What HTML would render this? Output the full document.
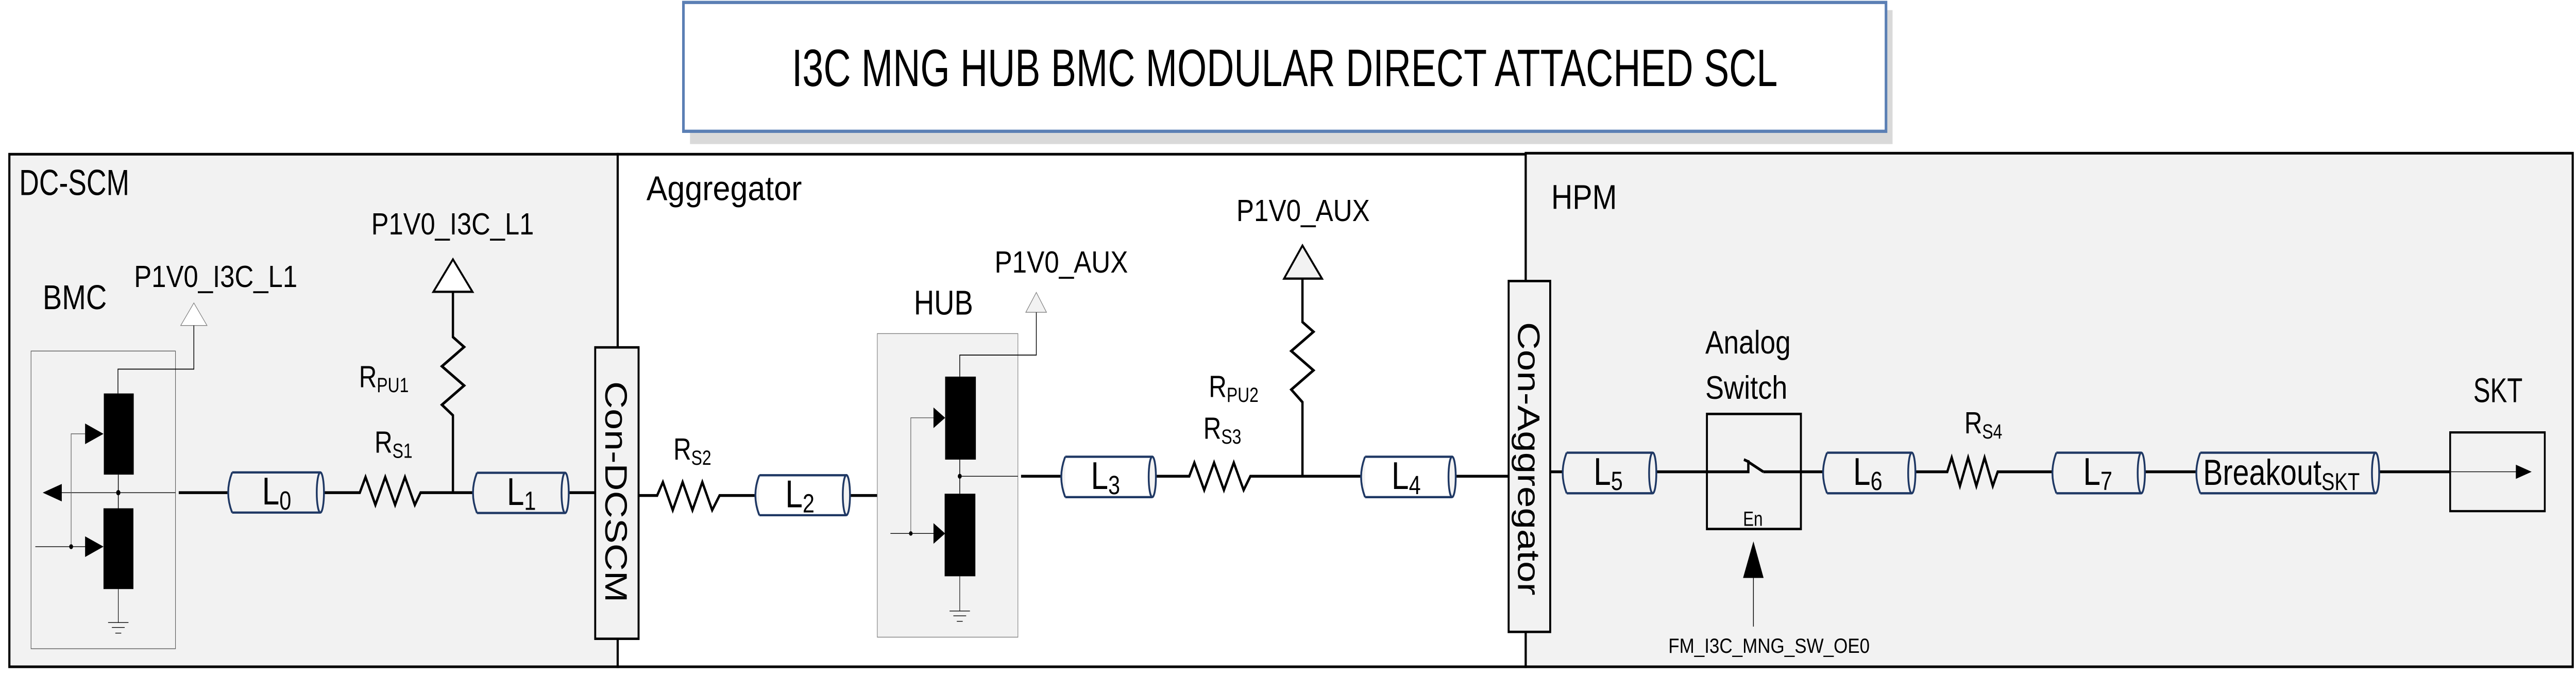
<!DOCTYPE html>
<html><head><meta charset="utf-8"><style>
html,body{margin:0;padding:0;background:#fff;width:100%;height:100%;overflow:hidden;}
svg{display:block;width:100vw;height:100vh;}
text{font-family:"Liberation Sans Narrow","Liberation Sans",sans-serif;fill:#000;}
.w{font-family:"Liberation Sans",sans-serif;}
</style></head><body>
<svg viewBox="0 0 1568 332.65" preserveAspectRatio="none" xmlns="http://www.w3.org/2000/svg">
<rect x="0" y="0" width="1568" height="332.65" fill="#fff"/>
<rect x="420" y="5" width="732" height="66" fill="#d9d9d9"/>
<rect x="416" y="1.2" width="732" height="63.5" fill="#fff" stroke="#5b7fb4" stroke-width="1.6"/>
<text x="782" y="42.4" font-size="26" text-anchor="middle" textLength="600" lengthAdjust="spacingAndGlyphs">I3C MNG HUB BMC MODULAR DIRECT ATTACHED SCL</text>

<rect x="5.7" y="76" width="370.3" height="252.6" fill="#f2f2f2" stroke="#000" stroke-width="1.3"/>
<rect x="376" y="76" width="552.7" height="252.6" fill="#fff" stroke="#000" stroke-width="1.3"/>
<rect x="928.7" y="75.5" width="637.3" height="253.1" fill="#f2f2f2" stroke="#000" stroke-width="1.3"/>

<text x="11.7" y="96.1" font-size="18" textLength="67" lengthAdjust="spacingAndGlyphs">DC-SCM</text>
<text x="393.5" y="98.7" font-size="17" textLength="94.6" lengthAdjust="spacingAndGlyphs">Aggregator</text>
<text x="944.2" y="103" font-size="17" textLength="40" lengthAdjust="spacingAndGlyphs">HPM</text>

<rect x="18.9" y="173" width="87.9" height="146.7" fill="#f2f2f2" stroke="#595959" stroke-width="0.35"/>
<text x="26" y="152.4" font-size="17" textLength="39" lengthAdjust="spacingAndGlyphs">BMC</text>
<text x="81.6" y="141.5" font-size="15" textLength="99.4" lengthAdjust="spacingAndGlyphs">P1V0_I3C_L1</text>
<polygon points="118,149.3 110,160.4 126,160.4" fill="#fff" stroke="#7f7f7f" stroke-width="0.35"/>
<polyline points="118,160.4 118,181.9 71.8,181.9 71.8,193.9" fill="none" stroke="#000" stroke-width="0.45"/>
<rect x="63.2" y="193.9" width="18.2" height="40" fill="#000"/>
<rect x="63" y="250.5" width="18.2" height="39.8" fill="#000"/>
<line x1="72" y1="233.9" x2="72" y2="250.5" stroke="#000" stroke-width="0.45"/>
<line x1="37" y1="242.8" x2="106.8" y2="242.8" stroke="#000" stroke-width="0.35"/>
<polygon points="26,242.8 37.6,238.5 37.6,247.1" fill="#000"/>
<circle cx="72" cy="242.8" r="1.3" fill="#000"/>
<polyline points="51.8,213.8 43.3,213.8 43.3,269.4" fill="none" stroke="#595959" stroke-width="0.35"/>
<line x1="21.5" y1="269.4" x2="52" y2="269.4" stroke="#000" stroke-width="0.35"/>
<circle cx="43.3" cy="269.4" r="1.2" fill="#000"/>
<polygon points="51.8,208.7 63,213.8 51.8,218.9" fill="#000"/>
<polygon points="51.8,264.3 63,269.4 51.8,274.5" fill="#000"/>
<line x1="72" y1="290.3" x2="72" y2="306.8" stroke="#000" stroke-width="0.35"/>
<line x1="65.8" y1="306.8" x2="78.2" y2="306.8" stroke="#000" stroke-width="0.35"/>
<line x1="68.1" y1="309.2" x2="75.9" y2="309.2" stroke="#000" stroke-width="0.35"/>
<line x1="70.2" y1="312" x2="73.8" y2="312" stroke="#000" stroke-width="0.35"/>

<g stroke="#000" stroke-width="1.4" fill="none">
<line x1="108.8" y1="242.8" x2="138.6" y2="242.8"/>
<polyline points="197,242.8 219,242.8 222.5,235.1 228.5,248.8 234.5,235.1 240.5,248.8 246.5,235.1 252.5,248.8 256,242.8 287.6,242.8"/>
<polyline points="275.7,143.8 275.7,166.1 282.5,171 269,180.5 282.5,190 269,199.5 275.7,204.7 275.7,242.8"/>
<line x1="346" y1="242.8" x2="362.3" y2="242.8"/>
</g>
<polygon points="275.7,127.8 263.8,143.8 287.6,143.8" fill="#fff" stroke="#000" stroke-width="1.1"/>
<text x="226" y="115.5" font-size="15" textLength="99" lengthAdjust="spacingAndGlyphs">P1V0_I3C_L1</text>
<text x="218.5" y="190.8" font-size="15">R<tspan font-size="10" dy="2.5">PU1</tspan></text>
<text x="228" y="223.1" font-size="15">R<tspan font-size="10" dy="2.5">S1</tspan></text>

<rect x="362.3" y="171.2" width="26.4" height="143.6" fill="#f2f2f2" stroke="#000" stroke-width="1.2"/>
<text class="w" transform="translate(375.5,187.9) rotate(90)" x="0" y="7" font-size="19" textLength="109" lengthAdjust="spacingAndGlyphs">Con-DCSCM</text>

<g stroke="#000" stroke-width="1.4" fill="none">
<polyline points="388.7,244.2 400,244.2 403.5,237.6 409.5,251.4 415.5,237.6 421.5,251.4 427.5,237.6 433.5,251.4 438,244.2 459.5,244.2"/>
<line x1="517.2" y1="244.2" x2="534.7" y2="244.2"/>
<line x1="621.5" y1="234.7" x2="645.7" y2="234.7"/>
<polyline points="703.4,234.7 723.9,234.7 727,228 733,241.5 739,228 745,241.5 751,228 757,241.5 761.1,234.7 828.2,234.7"/>
<polyline points="792.8,137.3 792.8,158.7 799.5,163.5 786,173 799.5,182.5 786,192 792.8,198.2 792.8,234.7"/>
<line x1="885.9" y1="234.7" x2="918.3" y2="234.7"/>
</g>
<text x="409.9" y="226.5" font-size="15">R<tspan font-size="10" dy="2.5">S2</tspan></text>
<text x="735.8" y="195.6" font-size="15">R<tspan font-size="10" dy="2.5">PU2</tspan></text>
<text x="732.5" y="216.2" font-size="15">R<tspan font-size="10" dy="2.5">S3</tspan></text>
<polygon points="792.8,121 781.6,137.3 804.7,137.3" fill="#f2f2f2" stroke="#000" stroke-width="1.1"/>
<text x="752.6" y="109" font-size="15" textLength="81.2" lengthAdjust="spacingAndGlyphs">P1V0_AUX</text>

<rect x="534" y="164.4" width="85.6" height="149.6" fill="#f2f2f2" stroke="#7f7f7f" stroke-width="0.35"/>
<text x="556.3" y="155" font-size="17" textLength="36" lengthAdjust="spacingAndGlyphs">HUB</text>
<text x="605.4" y="134.3" font-size="15" textLength="81.2" lengthAdjust="spacingAndGlyphs">P1V0_AUX</text>
<polygon points="630.8,144.1 624.4,153.9 637,153.9" fill="#f2f2f2" stroke="#7f7f7f" stroke-width="0.35"/>
<polyline points="630.8,153.9 630.8,175 584.2,175 584.2,185.6" fill="none" stroke="#000" stroke-width="0.45"/>
<rect x="575.3" y="185.6" width="18.7" height="40.9" fill="#000"/>
<rect x="575" y="243.3" width="18.7" height="40.7" fill="#000"/>
<line x1="584.2" y1="226.5" x2="584.2" y2="243.3" stroke="#000" stroke-width="0.45"/>
<line x1="584.2" y1="234.7" x2="619.6" y2="234.7" stroke="#000" stroke-width="0.35"/>
<circle cx="584.2" cy="234.7" r="1.2" fill="#000"/>
<polyline points="568.2,205.9 554.4,205.9 554.4,262.9" fill="none" stroke="#595959" stroke-width="0.35"/>
<line x1="542" y1="262.9" x2="568.5" y2="262.9" stroke="#000" stroke-width="0.35"/>
<circle cx="554.4" cy="262.9" r="1.1" fill="#000"/>
<polygon points="568.2,200.8 575.3,205.9 568.2,211" fill="#000"/>
<polygon points="568.2,257.8 575.3,262.9 568.2,268" fill="#000"/>
<line x1="584.2" y1="284" x2="584.2" y2="301.1" stroke="#000" stroke-width="0.35"/>
<line x1="578" y1="301.1" x2="590.4" y2="301.1" stroke="#000" stroke-width="0.35"/>
<line x1="580.3" y1="303.5" x2="588.1" y2="303.5" stroke="#000" stroke-width="0.35"/>
<line x1="582.4" y1="306.2" x2="586" y2="306.2" stroke="#000" stroke-width="0.35"/>

<rect x="918.3" y="138.5" width="25.3" height="172.9" fill="#f2f2f2" stroke="#000" stroke-width="1.2"/>
<text class="w" transform="translate(931,158.7) rotate(90)" x="0" y="7" font-size="19" textLength="134.7" lengthAdjust="spacingAndGlyphs">Con-Aggregator</text>

<g stroke="#000" stroke-width="1.4" fill="none">
<line x1="943.6" y1="232.5" x2="950.9" y2="232.5"/>
<polyline points="1008,232.5 1064.2,232.5 1064.2,226.8"/>
<line x1="1061.5" y1="226.5" x2="1064.5" y2="227.6"/>
<line x1="1064.5" y1="227.8" x2="1073.3" y2="232.5"/>
<line x1="1073.3" y1="232.5" x2="1109.4" y2="232.5"/>
<polyline points="1165.7,232.5 1185.3,232.5 1188,225.5 1193,239.5 1198,225.5 1203,239.5 1208,225.5 1213,239.5 1216,232.5 1249,232.5"/>
<line x1="1305.4" y1="232.5" x2="1336.6" y2="232.5"/>
<line x1="1448" y1="232.5" x2="1491.4" y2="232.5"/>
</g>
<rect x="1039" y="204" width="57.2" height="56.7" fill="none" stroke="#000" stroke-width="1.2"/>
<text x="1061" y="259.1" font-size="10" textLength="12" lengthAdjust="spacingAndGlyphs">En</text>
<text x="1038" y="174.2" font-size="16" textLength="52" lengthAdjust="spacingAndGlyphs">Analog</text>
<text x="1038" y="196.5" font-size="16" textLength="50" lengthAdjust="spacingAndGlyphs">Switch</text>
<line x1="1067.3" y1="284" x2="1067.3" y2="308.8" stroke="#000" stroke-width="0.45"/>
<polygon points="1067.3,266.8 1061,284.8 1073.5,284.8" fill="#000"/>
<text x="1015.5" y="321.7" font-size="10" textLength="122.6" lengthAdjust="spacingAndGlyphs">FM_I3C_MNG_SW_OE0</text>
<text x="1195.7" y="213.6" font-size="15">R<tspan font-size="10" dy="2.5">S4</tspan></text>

<rect x="1491.4" y="213.1" width="57.6" height="38.8" fill="none" stroke="#000" stroke-width="1.1"/>
<line x1="1491.4" y1="232.5" x2="1532" y2="232.5" stroke="#000" stroke-width="0.35"/>
<polygon points="1531.4,229 1541,232.5 1531.4,236" fill="#000"/>
<text x="1505.5" y="198.2" font-size="17" textLength="30" lengthAdjust="spacingAndGlyphs">SKT</text>

<g fill="#f2f2f2" stroke="#1f3864" stroke-width="1.1">
<path d="M141.3,232.8 L194.8,232.8 M141.3,252.6 L194.8,252.6 M141.3,232.8 Q136.5,242.7 141.3,252.6"/><ellipse cx="195" cy="242.7" rx="2.2" ry="9.9"/>
<path d="M290.3,233 L343.8,233 M290.3,252.8 L343.8,252.8 M290.3,233 Q285.5,242.9 290.3,252.8"/><ellipse cx="344" cy="242.9" rx="2.2" ry="9.9"/>
<path d="M462.2,234.2 L515,234.2 M462.2,253.9 L515,253.9 M462.2,234.2 Q457.4,244 462.2,253.9"/><ellipse cx="515.2" cy="244" rx="2.2" ry="9.85"/>
<path d="M648.4,225.1 L701.2,225.1 M648.4,245 L701.2,245 M648.4,225.1 Q643.6,235 648.4,245"/><ellipse cx="701.4" cy="235" rx="2.2" ry="9.95"/>
<path d="M830.9,225.1 L883.7,225.1 M830.9,245 L883.7,245 M830.9,225.1 Q826.1,235 830.9,245"/><ellipse cx="883.9" cy="235" rx="2.2" ry="9.95"/>
<path d="M953.6,223.1 L1005.8,223.1 M953.6,243.1 L1005.8,243.1 M953.6,223.1 Q948.8,233.1 953.6,243.1"/><ellipse cx="1006" cy="233.1" rx="2.2" ry="10"/>
<path d="M1112.1,223.1 L1163.5,223.1 M1112.1,243.1 L1163.5,243.1 M1112.1,223.1 Q1107.3,233.1 1112.1,243.1"/><ellipse cx="1163.7" cy="233.1" rx="2.2" ry="10"/>
<path d="M1251.7,223.1 L1303.2,223.1 M1251.7,243.1 L1303.2,243.1 M1251.7,223.1 Q1246.9,233.1 1251.7,243.1"/><ellipse cx="1303.4" cy="233.1" rx="2.2" ry="10"/>
<path d="M1339.3,223.1 L1445.8,223.1 M1339.3,243.1 L1445.8,243.1 M1339.3,223.1 Q1334.5,233.1 1339.3,243.1"/><ellipse cx="1446" cy="233.1" rx="2.2" ry="10"/>
</g>
<text x="159.5" y="248.6" font-size="19">L<tspan font-size="13" dy="2.5">0</tspan></text>
<text x="308.5" y="248.8" font-size="19">L<tspan font-size="13" dy="2.5">1</tspan></text>
<text x="478" y="250" font-size="19">L<tspan font-size="13" dy="2.5">2</tspan></text>
<text x="664" y="241" font-size="19">L<tspan font-size="13" dy="2.5">3</tspan></text>
<text x="847" y="241" font-size="19">L<tspan font-size="13" dy="2.5">4</tspan></text>
<text x="970" y="239" font-size="19">L<tspan font-size="13" dy="2.5">5</tspan></text>
<text x="1128" y="239" font-size="19">L<tspan font-size="13" dy="2.5">6</tspan></text>
<text x="1268" y="239" font-size="19">L<tspan font-size="13" dy="2.5">7</tspan></text>
<text x="1341" y="239" font-size="18">Breakout<tspan font-size="12" dy="2.5">SKT</tspan></text>
</svg>
</body></html>
